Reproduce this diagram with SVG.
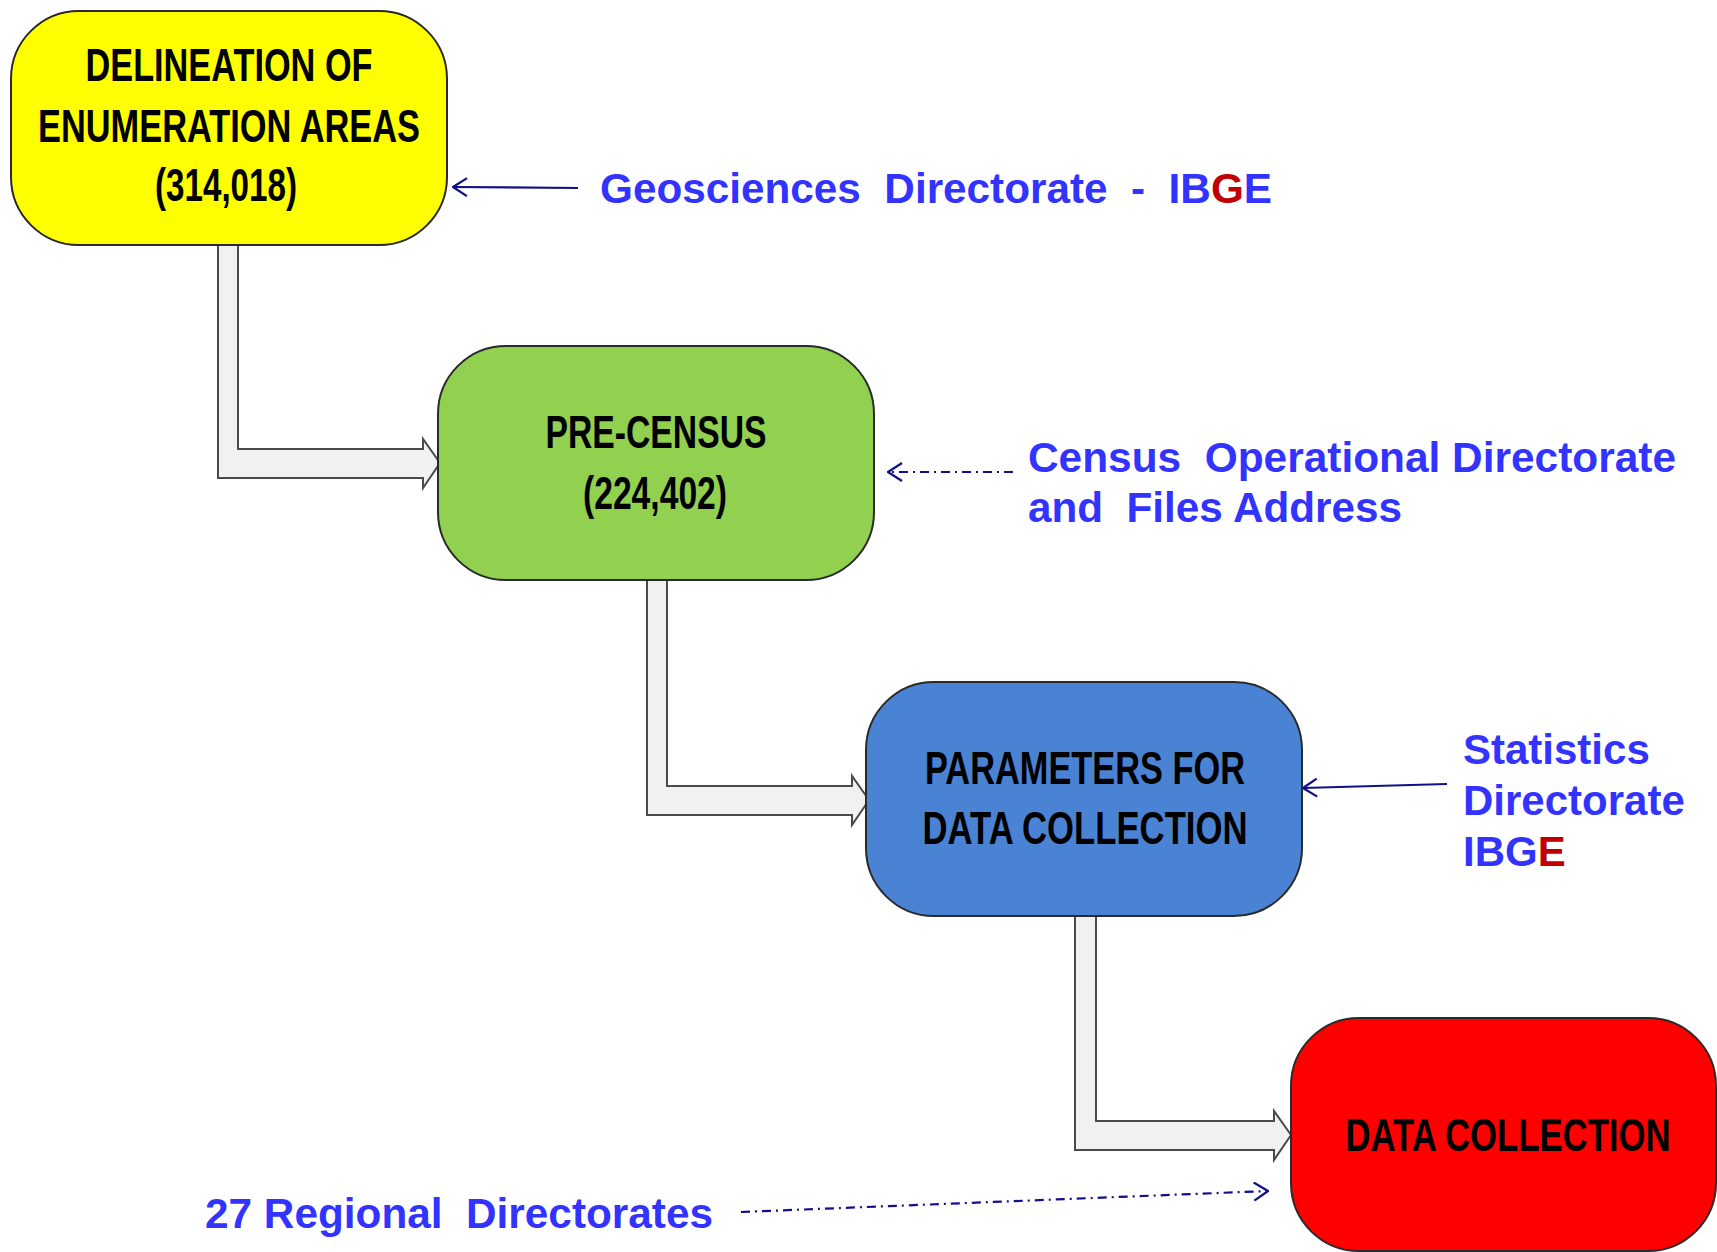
<svg xmlns="http://www.w3.org/2000/svg" width="1717" height="1252" viewBox="0 0 1717 1252">
<style>
.box{stroke:#2a2a2a;stroke-width:2}
.bt{font-family:"Liberation Sans",Arial,sans-serif;font-weight:bold;font-size:46px;fill:#000;text-anchor:middle}
.lbl{font-family:"Liberation Sans",Arial,sans-serif;font-weight:bold;font-size:42px;fill:#3333ff}
.red{fill:#c00000}
.flow{fill:#f1f1f1;stroke:#4a4a4a;stroke-width:2;stroke-linejoin:miter}
.ln{fill:none;stroke:#10108a;stroke-width:2.2;marker-end:url(#head)}
.dd{stroke-dasharray:9 5 2 5}
</style>
<defs>
<marker id="head" viewBox="0 0 16 20" markerWidth="16" markerHeight="20" refX="15" refY="10" orient="auto" markerUnits="userSpaceOnUse">
<path d="M1,1 L15,10 L1,19" fill="none" stroke="#10108a" stroke-width="2.2"/>
</marker>
</defs>
<rect width="1717" height="1252" fill="#fff"/>
<g id="connectors">
<path class="flow" d="M218,245 V478 H423 V488 L440,463 L423,439 V449 H238 V245"/>
<path class="flow" d="M647,580 V815 H852 V825 L869,800 L852,776 V786 H667 V580"/>
<path class="flow" d="M1075,916 V1150 H1274 V1160 L1291,1135 L1274,1111 V1121 H1096 V916"/>
<line class="ln" x1="578" y1="188" x2="453" y2="187"/>
<line class="ln dd" x1="1013" y1="472" x2="888" y2="472"/>
<line class="ln" x1="1447" y1="784" x2="1303" y2="788"/>
<line class="ln dd" x1="741" y1="1212" x2="1268" y2="1191"/>
</g>
<g id="node-delineation">
<rect class="box" x="11" y="11" width="436" height="234" rx="68" fill="#ffff00"/>
<text class="bt" x="229" y="81" textLength="287" lengthAdjust="spacingAndGlyphs">DELINEATION OF</text>
<text class="bt" x="229" y="142" textLength="382" lengthAdjust="spacingAndGlyphs">ENUMERATION AREAS</text>
<text class="bt" x="226" y="201" textLength="142" lengthAdjust="spacingAndGlyphs">(314,018)</text>
</g>
<g id="node-precensus">
<rect class="box" x="438" y="346" width="436" height="234" rx="68" fill="#92d050"/>
<text class="bt" x="656" y="448" textLength="221" lengthAdjust="spacingAndGlyphs">PRE-CENSUS</text>
<text class="bt" x="655" y="509" textLength="144" lengthAdjust="spacingAndGlyphs">(224,402)</text>
</g>
<g id="node-parameters">
<rect class="box" x="866" y="682" width="436" height="234" rx="68" fill="#4a83d3"/>
<text class="bt" x="1085" y="784" textLength="320" lengthAdjust="spacingAndGlyphs">PARAMETERS FOR</text>
<text class="bt" x="1085" y="844" textLength="325" lengthAdjust="spacingAndGlyphs">DATA COLLECTION</text>
</g>
<g id="node-datacollection">
<rect class="box" x="1291" y="1018" width="425" height="233" rx="68" fill="#ff0000"/>
<text class="bt" x="1508" y="1151" textLength="325" lengthAdjust="spacingAndGlyphs">DATA COLLECTION</text>
</g>
<g id="label-geosciences">
<text class="lbl" x="600" y="203" xml:space="preserve" textLength="672" lengthAdjust="spacingAndGlyphs">Geosciences  Directorate  -  IB<tspan class="red">G</tspan>E</text>
</g>
<g id="label-census">
<text class="lbl" x="1028" y="472" xml:space="preserve" textLength="648" lengthAdjust="spacingAndGlyphs">Census  Operational Directorate</text>
<text class="lbl" x="1028" y="522" xml:space="preserve" textLength="374" lengthAdjust="spacingAndGlyphs">and  Files Address</text>
</g>
<g id="label-statistics">
<text class="lbl" x="1463" y="764">Statistics</text>
<text class="lbl" x="1463" y="815">Directorate</text>
<text class="lbl" x="1463" y="866">IBG<tspan class="red">E</tspan></text>
</g>
<g id="label-regional">
<text class="lbl" x="205" y="1228" xml:space="preserve" textLength="508" lengthAdjust="spacingAndGlyphs">27 Regional  Directorates</text>
</g>
</svg>
